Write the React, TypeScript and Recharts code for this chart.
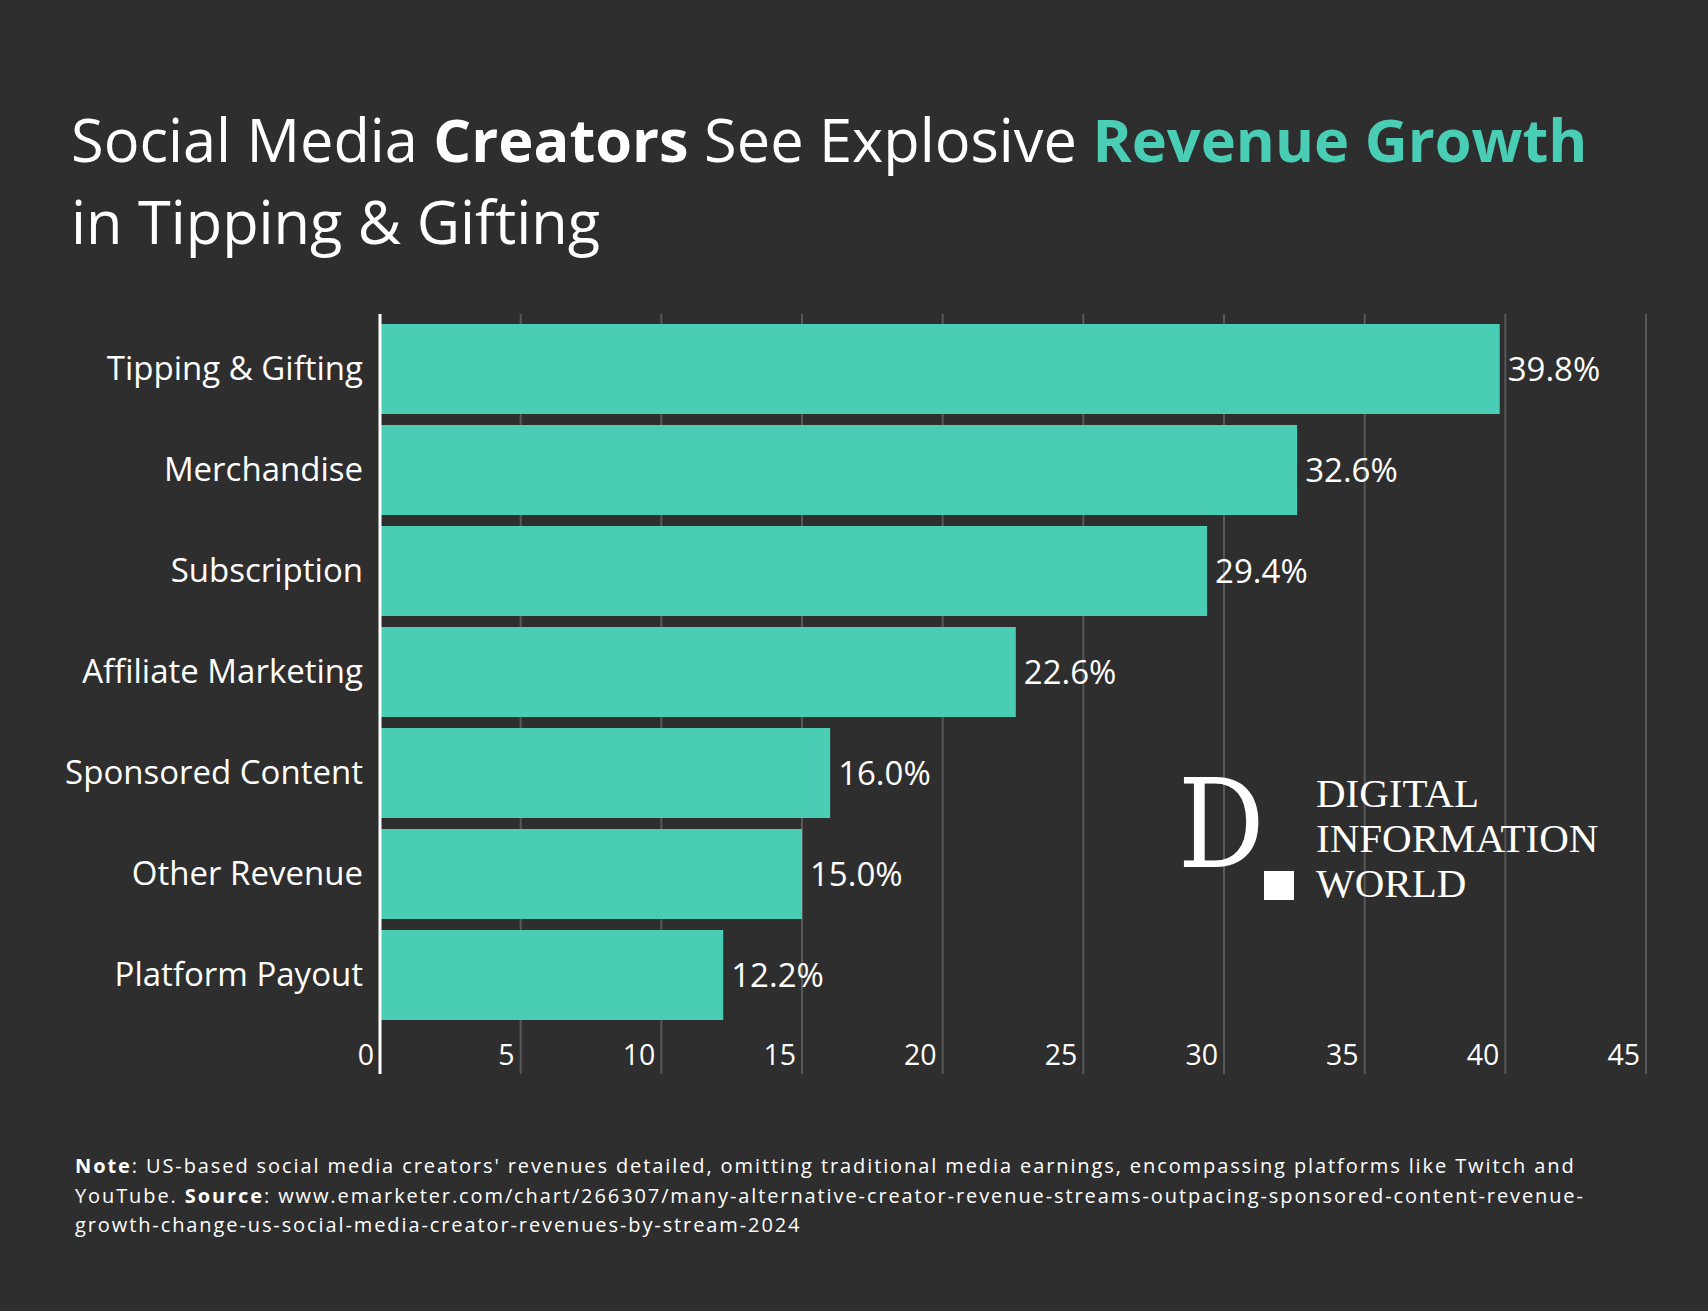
import React from 'react';
import { BarChart, Bar, XAxis, YAxis, CartesianGrid, LabelList } from 'recharts';

const categories = [
  'Tipping & Gifting',
  'Merchandise',
  'Subscription',
  'Affiliate Marketing',
  'Sponsored Content',
  'Other Revenue',
  'Platform Payout',
];
const growth = [39.8, 32.6, 29.4, 22.6, 16.0, 15.0, 12.2];
const xTicks = [0, 5, 10, 15, 20, 25, 30, 35, 40, 45];

const data = categories.map((name, i) => ({ name, value: growth[i] }));

const BG = '#2e2e2e';
const TEAL = '#4acdb5';
const FONT = "'Open Sans', sans-serif";

// x tick labels sit inside the plot, just left of each gridline
const XTick = (props: any) => {
  const { x, y, payload } = props;
  return (
    <text x={x - 6} y={y - 9} textAnchor="end" fill="#fff" fontSize={28.5} fontFamily={FONT}>
      {payload.value}
    </text>
  );
};

export default function App() {
  React.useEffect(() => {
    document.body.style.margin = '0';
  }, []);

  return (
    <div style={{ position: 'absolute', left: 0, top: 0, width: 1708, height: 1311, background: BG, fontFamily: FONT, color: '#fff' }}>
      <div style={{ position: 'absolute', left: 71, top: 98, fontSize: 59.5, lineHeight: '82px', whiteSpace: 'nowrap' }}>
        Social Media <b>Creators</b> See Explosive <b style={{ color: TEAL }}>Revenue Growth</b>
        <br />
        in Tipping &amp; Gifting
      </div>

      <div style={{ position: 'absolute', left: 0, top: 0 }}>
        <BarChart
          width={1708}
          height={1104}
          data={data}
          layout="vertical"
          margin={{ top: 314, right: 62, bottom: 0, left: 0 }}
          barSize={90}
        >
          <CartesianGrid horizontal={false} stroke="#585858" strokeWidth={2} />
          <XAxis
            type="number"
            domain={[0, 45]}
            ticks={xTicks}
            height={30}
            axisLine={false}
            tickLine={false}
            tickSize={0}
            tickMargin={0}
            tick={<XTick />}
            interval={0}
          />
          <YAxis
            type="category"
            dataKey="name"
            width={380}
            padding={{ top: 4, bottom: 49 }}
            axisLine={{ stroke: '#fff', strokeWidth: 3 }}
            tickLine={false}
            tickSize={0}
            tickMargin={17}
            tick={{ fill: '#fff', fontSize: 33, fontFamily: FONT }}
            interval={0}
          />
          <Bar dataKey="value" fill={TEAL} isAnimationActive={false}>
            <LabelList
              dataKey="value"
              position="right"
              offset={8}
              fill="#fff"
              fontSize={33}
              fontFamily={FONT}
              formatter={(v: any) => `${Number(v).toFixed(1)}%`}
            />
          </Bar>
        </BarChart>
      </div>

      <div
        style={{
          position: 'absolute',
          left: 1178,
          top: 762,
          fontFamily: "'DejaVu Serif', serif",
          fontSize: 124,
          lineHeight: '124px',
          transform: 'scaleX(0.87)',
          transformOrigin: 'left top',
        }}
      >
        D
      </div>
      <div style={{ position: 'absolute', left: 1264, top: 871, width: 30, height: 29, background: '#fff' }} />
      <div
        style={{
          position: 'absolute',
          left: 1316,
          top: 771,
          fontFamily: "'Liberation Serif', serif",
          fontSize: 41,
          lineHeight: '45px',
          whiteSpace: 'nowrap',
        }}
      >
        DIGITAL
        <br />
        INFORMATION
        <br />
        WORLD
      </div>

      <div style={{ position: 'absolute', left: 75, top: 1151, fontSize: 20, letterSpacing: 1.9, lineHeight: '29.5px', whiteSpace: 'nowrap' }}>
        <b>Note</b>: US-based social media creators' revenues detailed, omitting traditional media earnings, encompassing platforms like Twitch and
        <br />
        YouTube. <b>Source</b>: www.emarketer.com/chart/266307/many-alternative-creator-revenue-streams-outpacing-sponsored-content-revenue-
        <br />
        growth-change-us-social-media-creator-revenues-by-stream-2024
      </div>
    </div>
  );
}
